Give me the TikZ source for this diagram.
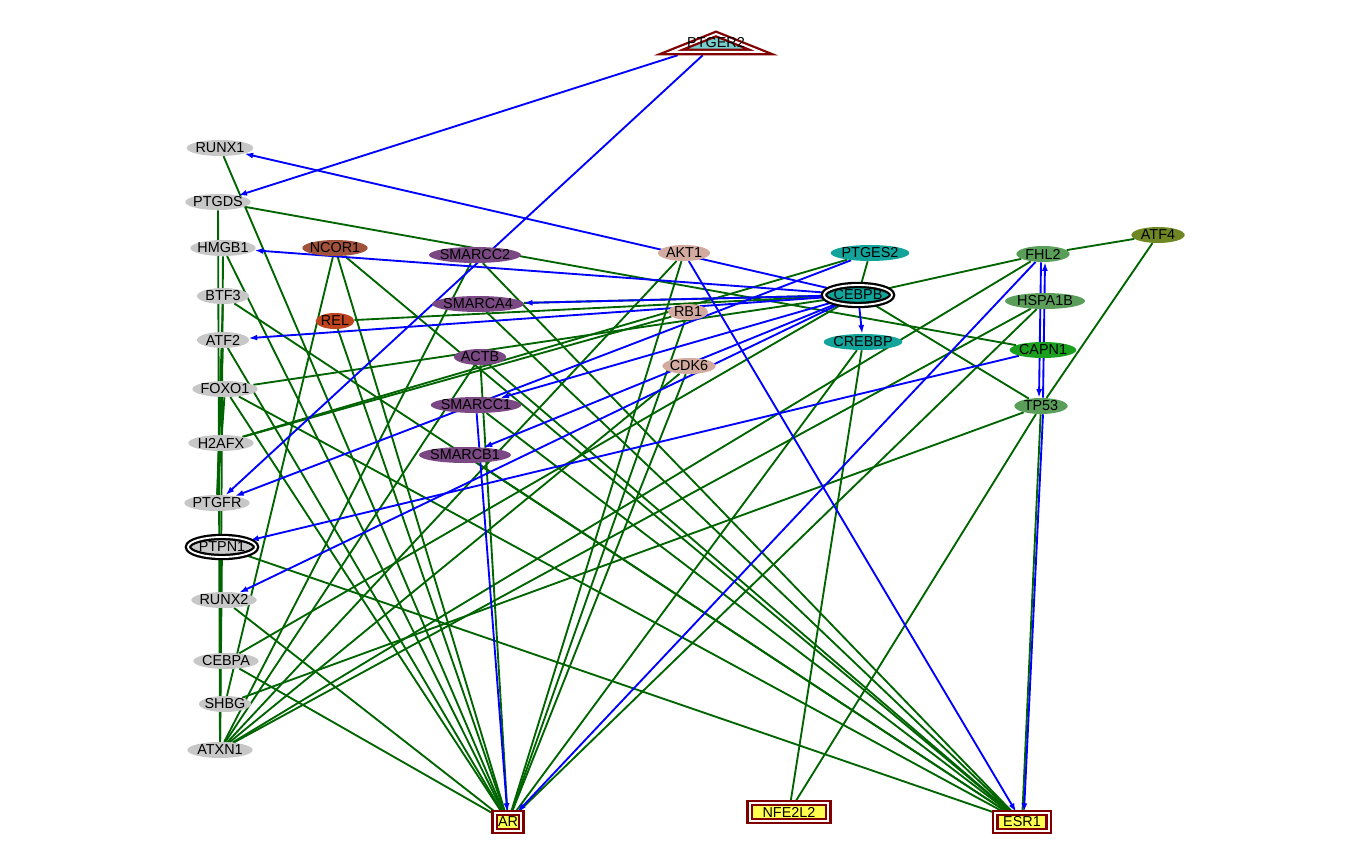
\documentclass[tikz,border=0pt]{standalone}
\usepackage{fontspec}
\setmainfont{Liberation Sans}
\usetikzlibrary{shapes.geometric,arrows.meta,backgrounds}

\definecolor{greynode}{RGB}{199,199,199}
\definecolor{sienna}{RGB}{160,82,58}
\definecolor{relred}{RGB}{192,68,30}
\definecolor{swipurple}{RGB}{122,72,130}
\definecolor{rosy}{RGB}{210,170,160}
\definecolor{teal}{RGB}{18,163,154}
\definecolor{midgreen}{RGB}{90,158,90}
\definecolor{capgreen}{RGB}{26,160,30}
\definecolor{olive}{RGB}{110,135,35}
\definecolor{boxred}{RGB}{128,0,0}
\definecolor{boxyellow}{RGB}{255,255,80}
\definecolor{trifill}{RGB}{120,205,205}
\definecolor{linkgreen}{RGB}{0,100,0}
\definecolor{linkblue}{RGB}{0,0,255}

\begin{document}
\begin{tikzpicture}[
        x=0.75pt, y=-0.75pt,
        font=\fontsize{10.8}{12}\selectfont,
        gene/.style={ellipse, inner xsep=-3pt, inner ysep=-3pt, minimum height=12pt},
        ring/.style={ellipse, draw=black, line width=1.7pt, double=white,
            double distance=1.4pt, inner xsep=-3pt, inner ysep=-3pt,
            minimum height=15pt, minimum width=51pt},
        target/.style={rectangle, draw=boxred, line width=1.7pt, double=white,
            double distance=1.5pt, fill=boxyellow, inner sep=0pt, minimum height=13.5pt},
        link/.style={draw=linkgreen, line width=1.4pt},
        act/.style={draw=linkblue, line width=1.4pt, -{Latex[length=6.5pt,width=4.5pt]}}]

    \useasboundingbox (0,0) rectangle (1369,866);

    % NODES
    % receptor on top
    \draw[boxred, line width=1.7pt, double=white, double distance=1.5pt, fill=trifill]
        (671,52) -- (716,34) -- (761,52) -- cycle;
    \node[rectangle, inner sep=0pt, minimum width=82pt, minimum height=18pt] (PTGER2) at (716,43) {PTGER2};

    % left column
    \node[gene, fill=greynode, minimum width=50pt] (RUNX1) at (220,148) {RUNX1};
    \node[gene, fill=greynode, minimum width=49pt] (PTGDS) at (218,202) {PTGDS};
    \node[gene, fill=greynode, minimum width=49pt] (HMGB1) at (223,248) {HMGB1};
    \node[gene, fill=greynode, minimum width=39pt] (BTF3) at (223,296) {BTF3};
    \node[gene, fill=greynode, minimum width=39pt] (ATF2) at (223,340) {ATF2};
    \node[gene, fill=greynode, minimum width=49pt] (FOXO1) at (225,389) {FOXO1};
    \node[gene, fill=greynode, minimum width=49pt] (H2AFX) at (221,443) {H2AFX};
    \node[gene, fill=greynode, minimum width=49pt] (PTGFR) at (217,503) {PTGFR};
    \node[ring, fill=greynode] (PTPN1) at (222,547) {PTPN1};
    \node[gene, fill=greynode, minimum width=49pt] (RUNX2) at (224,600) {RUNX2};
    \node[gene, fill=greynode, minimum width=49pt] (CEBPA) at (226,661) {CEBPA};
    \node[gene, fill=greynode, minimum width=39pt] (SHBG) at (225,704) {SHBG};
    \node[gene, fill=greynode, minimum width=49pt] (ATXN1) at (220,750) {ATXN1};

    % middle
    \node[gene, fill=sienna, minimum width=49pt] (NCOR1) at (335,248) {NCOR1};
    \node[gene, fill=relred, minimum width=29pt] (REL) at (335,321) {REL};
    \node[gene, fill=swipurple, minimum width=69pt] (SMARCC2) at (475,255) {SMARCC2};
    \node[gene, fill=swipurple, minimum width=69pt] (SMARCA4) at (478,304) {SMARCA4};
    \node[gene, fill=swipurple, minimum width=39pt] (ACTB) at (480,357) {ACTB};
    \node[gene, fill=swipurple, minimum width=68pt] (SMARCC1) at (476,405) {SMARCC1};
    \node[gene, fill=swipurple, minimum width=69pt] (SMARCB1) at (465,455) {SMARCB1};
    \node[gene, fill=rosy, minimum width=39pt] (AKT1) at (684,253) {AKT1};
    \node[gene, fill=rosy, minimum width=30pt] (RB1) at (688,312) {RB1};
    \node[gene, fill=rosy, minimum width=40pt] (CDK6) at (689,366) {CDK6};
    \node[gene, fill=teal, minimum width=59pt] (PTGES2) at (870,253) {PTGES2};
    \node[ring, fill=teal] (CEBPB) at (858,295) {CEBPB};
    \node[gene, fill=teal, minimum width=59pt] (CREBBP) at (863,342) {CREBBP};

    % right
    \node[gene, fill=midgreen, minimum width=40pt] (FHL2) at (1043,254) {FHL2};
    \node[gene, fill=midgreen, minimum width=60pt] (HSPA1B) at (1045,301) {HSPA1B};
    \node[gene, fill=capgreen, minimum width=50pt] (CAPN1) at (1043,350) {CAPN1};
    \node[gene, fill=midgreen, minimum width=40pt] (TP53) at (1041,406) {TP53};
    \node[gene, fill=olive, minimum width=40pt] (ATF4) at (1158,235) {ATF4};

    % bottom targets
    \node[target, minimum width=20pt] (AR) at (508,822) {AR};
    \node[target, minimum width=59pt] (NFE2L2) at (789,812) {NFE2L2};
    \node[target, minimum width=40pt] (ESR1) at (1022,822) {ESR1};

    % LINKS
    \begin{scope}[on background layer]
    % left column, vertical
    \draw[link] (PTGDS) -- (ATXN1);
    \draw[link] (HMGB1) -- (ATXN1);
    \draw[link] (BTF3) -- (PTGFR);
    \draw[link] (ATF2) -- (PTGFR);
    \draw[link] (FOXO1) -- (PTGFR);
    \draw[link] (PTPN1) -- (ATXN1);
    % left column, across
    \draw[link] (RUNX1) -- (AR);
    \draw[link] (PTGDS) -- (CAPN1);
    \draw[link] (HMGB1) -- (AR);
    \draw[link] (BTF3) -- (ESR1);
    \draw[link] (ATF2) -- (AR);
    \draw[link] (FOXO1) -- (AR);
    \draw[link] (FOXO1) -- (ESR1);
    \draw[link] (FOXO1) -- (CEBPB);
    \draw[link] (H2AFX) -- (RB1);
    \draw[link] (H2AFX) -- (PTGES2);
    \draw[link] (PTPN1) -- (ESR1);
    \draw[link] (RUNX2) -- (AR);
    \draw[link] (CEBPA) -- (AR);
    \draw[link] (CEBPA) -- (CEBPB);
    \draw[link] (SHBG) -- (NCOR1);
    \draw[link] (SHBG) -- (TP53);
    \draw[link] (ATXN1) -- (SMARCC2);
    \draw[link] (ATXN1) -- (ACTB);
    \draw[link] (ATXN1) -- (AKT1);
    \draw[link] (ATXN1) -- (CDK6);
    \draw[link] (ATXN1) -- (FHL2);
    \draw[link] (ATXN1) -- (HSPA1B);
    % middle
    \draw[link] (NCOR1) -- (AR);
    \draw[link] (NCOR1) -- (ESR1);
    \draw[link] (REL) -- (AR);
    \draw[link] (REL) -- (CEBPB);
    \draw[link] (SMARCC2) -- (ESR1);
    \draw[link] (SMARCA4) -- (ESR1);
    \draw[link] (SMARCA4) -- (CEBPB);
    \draw[link] (ACTB) -- (AR);
    \draw[link] (ACTB) -- (ESR1);
    \draw[link] (SMARCC1) -- (ESR1);
    \draw[link] (SMARCB1) -- (ESR1);
    \draw[link] (AKT1) -- (AR);
    \draw[link] (RB1) -- (AR);
    \draw[link] (CDK6) -- (AR);
    \draw[link] (CEBPB) -- (PTGES2);
    \draw[link] (CEBPB) -- (FHL2);
    \draw[link] (CEBPB) -- (TP53);
    \draw[link] (CREBBP) -- (NFE2L2);
    \draw[link] (CREBBP) -- (AR);
    % right
    \draw[link] (FHL2) -- (ATF4);
    \draw[link] (ATF4) -- (TP53);
    \draw[link] (HSPA1B) -- (AR);
    \draw[link] (TP53) -- (NFE2L2);
    \draw[link] (TP53) -- (ESR1);

    % ARROWS
    \draw[act] (PTGER2) -- (PTGDS);
    \draw[act] (PTGER2) -- (PTGFR);
    \draw[act] (CEBPB) -- (RUNX1);
    \draw[act] (CEBPB) -- (HMGB1);
    \draw[act] (CEBPB) -- (SMARCA4);
    \draw[act] (CEBPB) -- (ATF2);
    \draw[act] (CEBPB) -- (SMARCC1);
    \draw[act] (CEBPB) -- (SMARCB1);
    \draw[act] (CEBPB) -- (RUNX2);
    \draw[act] (CEBPB) -- (CREBBP);
    \draw[act, {Latex[length=6.5pt,width=4.5pt]}-] (PTGFR) -- (PTGES2);
    \draw[act] (CAPN1) -- (PTPN1);
    \draw[act] (AKT1) -- (ESR1);
    \draw[act] (SMARCC1) -- (AR);
    \draw[act] (FHL2) -- (AR);
    \draw[act] ([xshift=-1.5pt]FHL2.south) -- ([xshift=-1.5pt]TP53.north);
    \draw[act] ([xshift=1.5pt]TP53.north) -- ([xshift=1.5pt]FHL2.south);
    \draw[act] ([xshift=1.5pt]TP53.south) -- ([xshift=1.5pt]ESR1.north);
    \end{scope}
\end{tikzpicture}
\end{document}
